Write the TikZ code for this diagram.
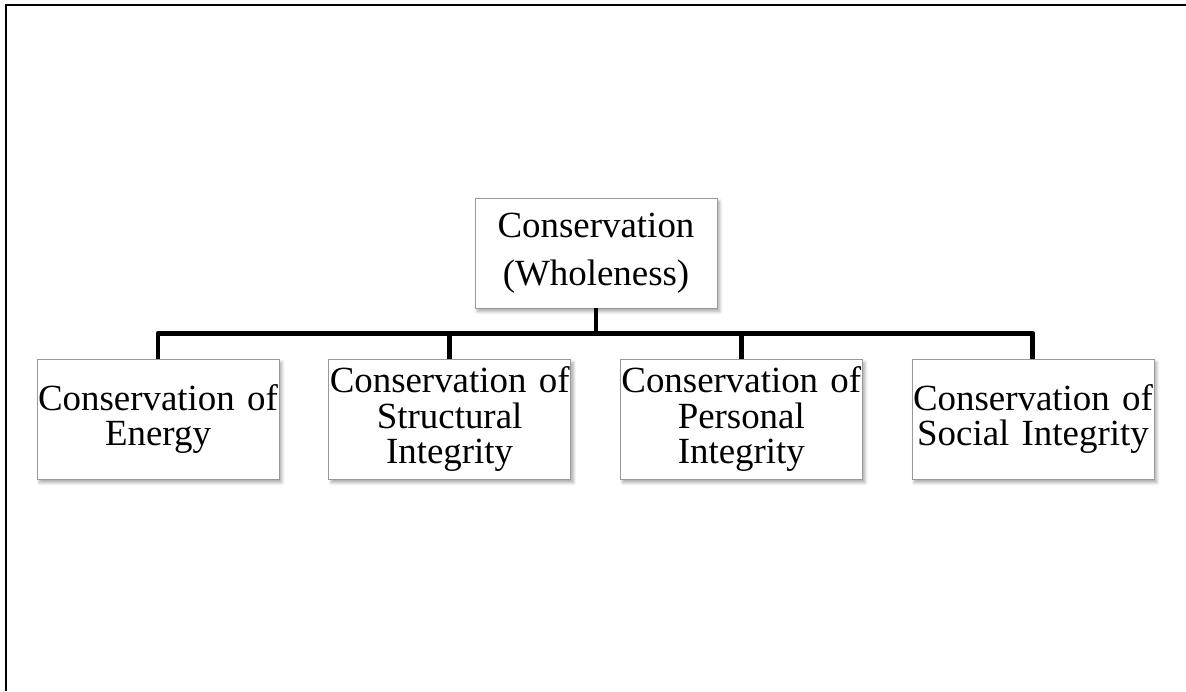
\documentclass[tikz,border=0pt]{standalone}
\usepackage{fontspec}
\setmainfont{Liberation Serif}
\usetikzlibrary{positioning, shadows.blur}

\begin{document}
\begin{tikzpicture}[
			x=0.02cm, y=0.02cm,
			node distance=0.98cm,
			topbox/.style={rectangle, minimum width=4.84cm, minimum height=2.2cm, inner sep=0pt, text width=4.8cm, align=center, draw=black!40, fill=white, blur shadow={shadow xshift=1.5pt, shadow yshift=-2pt, shadow blur steps=6, shadow opacity=35}, font=\fontsize{21}{27.2}\selectfont},
			subbox/.style={rectangle, minimum width=4.84cm, minimum height=2.4cm, inner sep=0pt, text width=4.8cm, align=center, draw=black!40, fill=white, blur shadow={shadow xshift=1.5pt, shadow yshift=-2pt, shadow blur steps=6, shadow opacity=35}, font=\fontsize{21}{20.4}\selectfont},
			conn/.style={line width=2.8pt, line join=round},
			frame/.style={line width=1.7pt}
		]
		\useasboundingbox (0,0) rectangle (1186,691);

		% --- CORNICE ---
		\draw [frame] (6,0) -- (6,686) -- (1186,686);

		% --- NODO PRINCIPALE ---
		\node (root) [topbox] at (596,438) {Conservation\\(Wholeness)};

		% --- SOTTO-NODI ---
		\node (energy) [subbox] at (158,272) {Conservation of\\Energy};
		\node (structural) [subbox, right=of energy] {Conservation of\\Structural\\Integrity};
		\node (personal) [subbox, right=of structural] {Conservation of\\Personal\\Integrity};
		\node (social) [subbox, right=of personal] {Conservation of\\Social Integrity};

		% --- COLLEGAMENTI ---
		\path (root.south) ++(0,-25) coordinate (bus);
		\draw [conn] (root.south) -- (bus);
		\draw [conn] (energy.north) |- (bus) -| (social.north);
		\foreach \n in {structural, personal}
			\draw [conn] (\n.north) -- (\n.north |- bus);
	\end{tikzpicture}
\end{document}
